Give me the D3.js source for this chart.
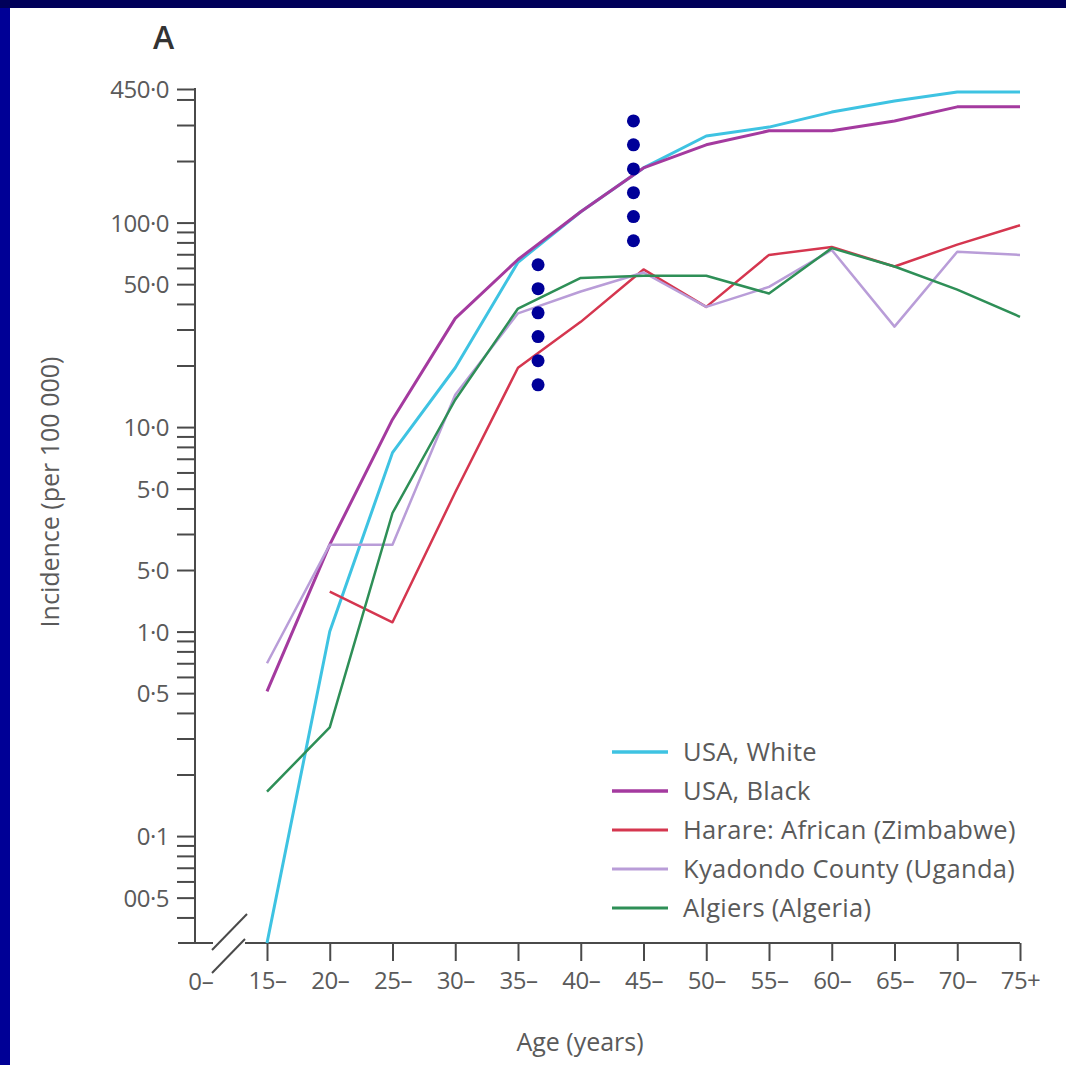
<!DOCTYPE html>
<html>
<head>
<meta charset="utf-8">
<script src="https://cdn.jsdelivr.net/npm/d3@7"></script>
<style>
  html, body { margin: 0; padding: 0; background: #fff; }
  svg { display: block; }
  text { font-family: "Open Sans", "Noto Sans", sans-serif; }
</style>
</head>
<body>
<svg id="chart" width="1066" height="1065"></svg>
<script>
// ---- data ----
const ages = [15, 20, 25, 30, 35, 40, 45, 50, 55, 60, 65, 70, 75];
const ageLabels = ["15–","20–","25–","30–","35–","40–","45–","50–","55–","60–","65–","70–","75+"];

const usaWhite   = [0.03, 1.0, 7.5, 19.5, 64, 113, 185, 265, 293, 347, 393, 435, 435];
const usaBlack   = [0.51, 2.66, 10.9, 34, 66, 113, 185, 240, 281, 281, 314, 368, 368];
const harare     = [null, 1.57, 1.11, 4.8, 19.5, 32.7, 59, 38.7, 69.5, 76, 61, 78, 97];
const kyadondo   = [0.70, 2.66, 2.66, 14.4, 36, 46, 57, 38.7, 48.5, 73.5, 31, 72, 69.5];
const algiers    = [0.165, 0.34, 3.8, 13.6, 38, 53.6, 55, 55, 45, 75, 61, 47, 34.6];

const seriesNames  = ["USA, White", "USA, Black", "Harare: African (Zimbabwe)", "Kyadondo County (Uganda)", "Algiers (Algeria)"];
const seriesValues = [usaWhite, usaBlack, harare, kyadondo, algiers];
const seriesColors = ["#3ec3e2", "#a43a9f", "#d5364f", "#b99dd8", "#2e8f57"];
const seriesWidths = [3, 3, 2.5, 2.5, 2.5];

const yMajorTicks  = [450, 100, 50, 10, 5, 2, 1, 0.5, 0.1, 0.05];
const yMajorLabels = ["450·0", "100·0", "50·0", "10·0", "5·0", "5·0", "1·0", "0·5", "0·1", "00·5"];
const yMinorTicks  = [0.04,0.06,0.07,0.08,0.09, 0.2,0.3,0.4,0.6,0.7,0.8,0.9, 3,4,6,7,8,9, 20,30,40,60,70,80,90, 200,300,400];

// annotation dots (two columns)
const dotsAgeA = 36.6, dotsValsA = [62.2, 47.5, 36.2, 27.7, 21.1, 16.1];
const dotsAgeB = 44.2, dotsValsB = [314, 240, 183, 140, 107, 81.5];

// ---- drawing ----
const svg = d3.select("#chart");
const W = 1066, H = 1065;

svg.append("rect").attr("x", 0).attr("y", 0).attr("width", W).attr("height", H).attr("fill", "#fff");
svg.append("rect").attr("x", 0).attr("y", 0).attr("width", 10).attr("height", H).attr("fill", "#000096");
svg.append("rect").attr("x", 0).attr("y", 0).attr("width", W).attr("height", 8).attr("fill", "#00005a");

const yAxisX = 195;
const x = d3.scaleLinear().domain([15, 75]).range([267, 1020]);
const y = d3.scaleLog().domain([0.03, 450]).range([943, 89]);

const axisColor = "#4a4a4a";
const textColor = "#5a5a5a";
const tickFont = "24px";

// Y axis
const yAxis = d3.axisLeft(y)
  .tickValues(yMajorTicks.concat(yMinorTicks))
  .tickSize(18)
  .tickPadding(8)
  .tickFormat(d => { const i = yMajorTicks.indexOf(d); return i >= 0 ? yMajorLabels[i] : ""; });

const gy = svg.append("g").attr("transform", `translate(${yAxisX},0)`).call(yAxis);
gy.select(".domain").remove();
gy.selectAll(".tick line").attr("stroke", axisColor).attr("stroke-width", 2);
gy.selectAll(".tick text").attr("fill", textColor).style("font-size", tickFont).attr("dy", "0.36em")
  .style("letter-spacing", "-0.5px");
svg.append("line").attr("x1", yAxisX).attr("x2", yAxisX).attr("y1", y(450) - 1).attr("y2", y(0.03) + 1)
  .attr("stroke", axisColor).attr("stroke-width", 2);

// X axis
const xAxis = d3.axisBottom(x).tickValues(ages).tickSize(18).tickPadding(11)
  .tickFormat((d, i) => ageLabels[i]);
const gx = svg.append("g").attr("transform", `translate(0,${y(0.03)})`).call(xAxis);
gx.select(".domain").remove();
gx.selectAll(".tick line").attr("stroke", axisColor).attr("stroke-width", 2);
gx.selectAll(".tick text").attr("fill", textColor).style("font-size", tickFont).style("letter-spacing", "-0.5px");

const axY = y(0.03);
// axis line with break
svg.append("line").attr("x1", yAxisX - 17).attr("x2", yAxisX + 18).attr("y1", axY).attr("y2", axY)
  .attr("stroke", axisColor).attr("stroke-width", 2);
svg.append("line").attr("x1", yAxisX + 50).attr("x2", x(75)).attr("y1", axY).attr("y2", axY)
  .attr("stroke", axisColor).attr("stroke-width", 2);
// break slashes
svg.append("line").attr("x1", yAxisX + 17).attr("y1", axY + 7).attr("x2", yAxisX + 52).attr("y2", axY - 29)
  .attr("stroke", axisColor).attr("stroke-width", 2);
svg.append("line").attr("x1", yAxisX + 17).attr("y1", axY + 30).attr("x2", yAxisX + 50).attr("y2", axY - 4)
  .attr("stroke", axisColor).attr("stroke-width", 2);
// "0–" label
svg.append("text").attr("x", yAxisX + 6).attr("y", axY + 11 + 18 + 18).attr("text-anchor", "middle")
  .attr("fill", textColor).style("font-size", tickFont).text("0–");

// axis titles
svg.append("text").attr("x", 580).attr("y", 1051).attr("text-anchor", "middle")
  .attr("fill", textColor).style("font-size", "25px").text("Age (years)");
svg.append("text").attr("transform", "translate(59,492) rotate(-90)").attr("text-anchor", "middle")
  .attr("fill", textColor).style("font-size", "25px").text("Incidence (per 100 000)");

// panel letter
svg.append("text").attr("x", 153).attr("y", 49).attr("fill", "#333").style("font-size", "32px")
  .style("font-weight", "600").text("A");

// series lines
const line = d3.line().defined(d => d[1] != null).x(d => x(d[0])).y(d => y(d[1]));
seriesValues.forEach((vals, i) => {
  svg.append("path")
    .datum(ages.map((a, j) => [a, vals[j]]))
    .attr("fill", "none")
    .attr("stroke", seriesColors[i])
    .attr("stroke-width", seriesWidths[i])
    .attr("stroke-linejoin", "round")
    .attr("d", line);
});

// legend
const leg = svg.append("g");
seriesNames.forEach((n, i) => {
  const ly = 752 + i * 39;
  leg.append("line").attr("x1", 612).attr("x2", 668).attr("y1", ly).attr("y2", ly)
    .attr("stroke", seriesColors[i]).attr("stroke-width", seriesWidths[i] + 0.5);
  leg.append("text").attr("x", 683).attr("y", ly).attr("dy", "0.35em")
    .attr("fill", textColor).style("font-size", "25.5px").style("letter-spacing", "0.3px").text(n);
});

// annotation dots
const dots = dotsValsA.map(v => [dotsAgeA, v]).concat(dotsValsB.map(v => [dotsAgeB, v]));
svg.append("g").selectAll("circle").data(dots).join("circle")
  .attr("cx", d => x(d[0])).attr("cy", d => y(d[1])).attr("r", 6.5).attr("fill", "#000099");
</script>
</body>
</html>
